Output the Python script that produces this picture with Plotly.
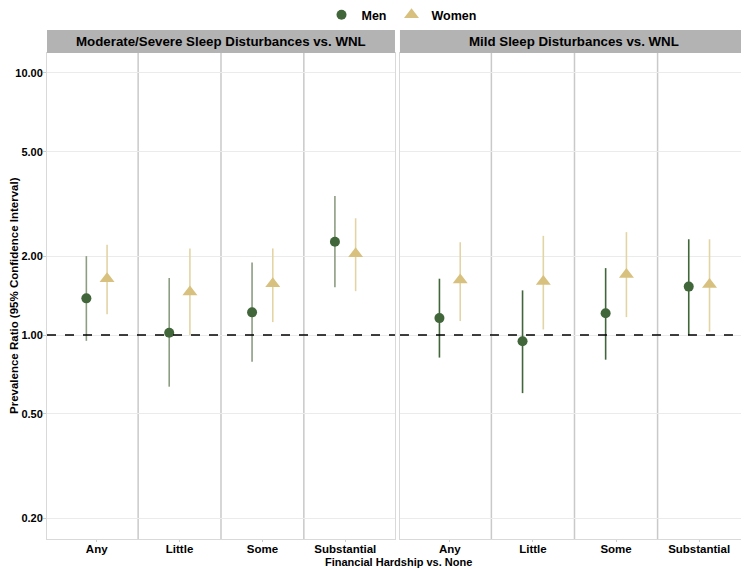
import plotly.graph_objects as go

categories = ["Any", "Little", "Some", "Substantial"]
panels = ["Moderate/Severe Sleep Disturbances vs. WNL", "Mild Sleep Disturbances vs. WNL"]

# Moderate/Severe vs WNL
mod_men = [1.38, 1.02, 1.22, 2.27]
mod_men_lo = [0.95, 0.635, 0.79, 1.52]
mod_men_hi = [2.00, 1.65, 1.89, 3.39]
mod_women = [1.64, 1.46, 1.57, 2.04]
mod_women_lo = [1.20, 1.00, 1.12, 1.47]
mod_women_hi = [2.21, 2.14, 2.14, 2.79]

# Mild vs WNL
mild_men = [1.16, 0.946, 1.21, 1.53]
mild_men_lo = [0.82, 0.60, 0.805, 1.00]
mild_men_hi = [1.64, 1.48, 1.80, 2.32]
mild_women = [1.62, 1.60, 1.70, 1.56]
mild_women_lo = [1.13, 1.05, 1.17, 1.03]
mild_women_hi = [2.26, 2.39, 2.47, 2.32]

y_ticks = [0.2, 0.5, 1, 2, 5, 10]
y_tick_text = ["0.20", "0.50", "1.00", "2.00", "5.00", "10.00"]

men_col = "#41663a"
women_col = "#d8c17f"
font = "Liberation Sans"

fig = go.Figure()

dodge = 0.125
pos = [1, 2, 3, 4]

data = [
    (mod_men, mod_men_lo, mod_men_hi, mod_women, mod_women_lo, mod_women_hi, "x", "y", "#8d9d83"),
    (mild_men, mild_men_lo, mild_men_hi, mild_women, mild_women_lo, mild_women_hi, "x2", "y2", "#41663a"),
]

for i, (m, mlo, mhi, w, wlo, whi, xa, ya, mci) in enumerate(data):
    fig.add_trace(go.Scatter(
        x=[p - dodge for p in pos], y=m, mode="markers", name="<b>Men</b>",
        xaxis=xa, yaxis=ya, showlegend=(i == 0), legendgroup="men",
        marker=dict(symbol="circle", size=10, color=men_col),
        error_y=dict(type="data", symmetric=False,
                     array=[h - v for h, v in zip(mhi, m)],
                     arrayminus=[v - l for v, l in zip(m, mlo)],
                     color=mci, thickness=1.6, width=0),
        hovertext=categories))
    fig.add_trace(go.Scatter(
        x=[p + dodge for p in pos], y=w, mode="markers", name="<b>Women</b>",
        xaxis=xa, yaxis=ya, showlegend=(i == 0), legendgroup="women",
        marker=dict(symbol="triangle-up", size=13, color=women_col),
        error_y=dict(type="data", symmetric=False,
                     array=[h - v for h, v in zip(whi, w)],
                     arrayminus=[v - l for v, l in zip(w, wlo)],
                     color="#e3d4a6", thickness=1.6, width=0),
        hovertext=categories))

shapes = []
for xr in ["x", "x2"]:
    dom = "x domain" if xr == "x" else "x2 domain"
    for s in [1.5, 2.5, 3.5]:
        shapes.append(dict(type="line", xref=xr, yref="paper", x0=s, x1=s, y0=0, y1=1,
                           line=dict(color="#c9c9c9", width=1.5), layer="below"))
    shapes.append(dict(type="line", xref=dom, yref="y" if xr == "x" else "y2", x0=0, x1=1, y0=1, y1=1,
                       line=dict(color="black", width=1.3, dash="dash")))
    shapes.append(dict(type="rect", xref=dom, yref="paper", x0=0, x1=1, y0=1, y1=1.0473,
                       fillcolor="#b3b3b3", line=dict(width=0)))

ann = []
for xr, title in zip(["x domain", "x2 domain"], panels):
    ann.append(dict(text="<b>" + title + "</b>", xref=xr, yref="paper", x=0.5, y=1.0236,
                    showarrow=False, font=dict(size=13.3, color="black", family=font),
                    xanchor="center", yanchor="middle"))
ann.append(dict(text="<b>Financial Hardship vs. None</b>", xref="paper", yref="paper",
                x=0.5, y=-0.0475, showarrow=False, xanchor="center", yanchor="middle",
                font=dict(size=11, color="black", family=font)))
ann.append(dict(text="<b>Prevalence Ratio (95% Confidence Interval)</b>", xref="paper", yref="paper",
                x=-0.0470, y=0.5, showarrow=False, xanchor="center", yanchor="middle",
                textangle=-90, font=dict(size=11.5, color="black", family=font)))

axis_common = dict(tickmode="array", tickvals=pos, ticktext=["<b>%s</b>" % c for c in categories],
                   range=[0.4, 4.6], showgrid=False, zeroline=False, showline=True, mirror=True,
                   linecolor="#d9d9d9", linewidth=1, ticks="outside", ticklen=2, tickcolor="#cccccc",
                   automargin=False, ticklabelstandoff=-3,
                   tickfont=dict(size=11.5, color="black", family=font))
yaxis_common = dict(type="log", range=[-0.7786, 1.0763], tickmode="array", tickvals=y_ticks,
                    showgrid=True, gridcolor="#ebebeb", gridwidth=1, zeroline=False,
                    showline=True, mirror=True, linecolor="#d9d9d9", linewidth=1,
                    tickcolor="#cccccc", automargin=False,
                    tickfont=dict(size=11, color="black", family=font))

fig.update_layout(
    width=741, height=561,
    margin=dict(l=39, r=0, t=45, b=30, autoexpand=False),
    paper_bgcolor="white", plot_bgcolor="white",
    font=dict(family=font, color="black"),
    xaxis=dict(domain=[0, 0.4957], **axis_common),
    xaxis2=dict(domain=[0.5028, 1], **axis_common),
    yaxis=dict(ticktext=["<b>%s</b>" % t for t in y_tick_text], ticks="outside", ticklen=3,
               ticklabelstandoff=-2, **yaxis_common),
    yaxis2=dict(anchor="x2", matches="y", showticklabels=False, ticks="",
                **yaxis_common),
    shapes=shapes,
    annotations=ann,
    legend=dict(orientation="h", x=0.505, xanchor="center", y=1.078, yanchor="middle",
                font=dict(size=12.5, color="black", family=font),
                itemwidth=30, traceorder="normal", tracegroupgap=0),
    showlegend=True,
)

fig.write_html("out.html")
